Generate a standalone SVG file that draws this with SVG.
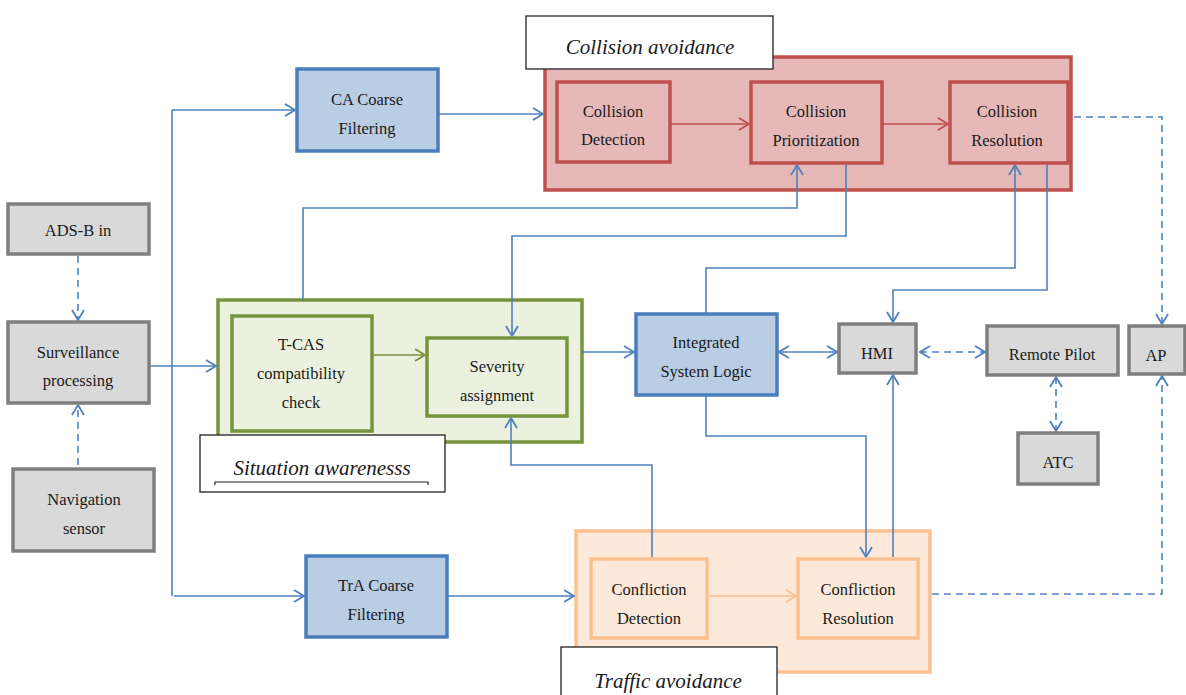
<svg xmlns="http://www.w3.org/2000/svg" width="1186" height="695" viewBox="0 0 1186 695" font-family="Liberation Serif, DejaVu Serif, Times New Roman, serif">
<defs>
<style>
text{font-family:'Liberation Serif','DejaVu Serif','Times New Roman',serif;font-size:16.5px;fill:#1a1a1a;text-anchor:middle;dominant-baseline:central}
.lbl{font-size:21px;font-style:italic}
.gray{fill:#d9d9d9;stroke:#7f7f7f;stroke-width:3.5}
.blue{fill:#b9cde5;stroke:#4a7ebb;stroke-width:3.5}
.red{fill:#e6b9b8;stroke:#c0504d;stroke-width:3.5}
.green{fill:#ebf1de;stroke:#77933c;stroke-width:3.5}
.orange{fill:#fde9d9;stroke:#fac090;stroke-width:3.5}
.tag{fill:#fff;stroke:#222;stroke-width:1.3}
.c{fill:none;stroke:#4f81bd;stroke-width:1.6;marker-end:url(#ah)}
.d{stroke-dasharray:7,5}
.cr{fill:none;stroke:#c0504d;stroke-width:1.6;marker-end:url(#ahr)}
.cg{fill:none;stroke:#77933c;stroke-width:1.6;marker-end:url(#ahg)}
.co{fill:none;stroke:#fac090;stroke-width:1.6;marker-end:url(#aho)}
</style>
<marker id="ah" viewBox="0 0 12 14" refX="11" refY="7" markerWidth="12" markerHeight="14" markerUnits="userSpaceOnUse" orient="auto-start-reverse"><path d="M1,1 L11,7 L1,13" fill="none" stroke="#4f81bd" stroke-width="1.8"/></marker>
<marker id="ahr" viewBox="0 0 12 14" refX="11" refY="7" markerWidth="12" markerHeight="14" markerUnits="userSpaceOnUse" orient="auto"><path d="M1,1 L11,7 L1,13" fill="none" stroke="#c0504d" stroke-width="1.8"/></marker>
<marker id="ahg" viewBox="0 0 12 14" refX="11" refY="7" markerWidth="12" markerHeight="14" markerUnits="userSpaceOnUse" orient="auto"><path d="M1,1 L11,7 L1,13" fill="none" stroke="#77933c" stroke-width="1.8"/></marker>
<marker id="aho" viewBox="0 0 12 14" refX="11" refY="7" markerWidth="12" markerHeight="14" markerUnits="userSpaceOnUse" orient="auto"><path d="M1,1 L11,7 L1,13" fill="none" stroke="#fac090" stroke-width="1.8"/></marker>
</defs>
<rect width="1186" height="695" fill="#fff"/>

<g id="collision-avoidance">
<rect class="red" x="545" y="57" width="526" height="133"/>
<rect class="tag" x="526" y="16" width="247" height="53"/>
<text class="lbl" x="650" y="47">Collision avoidance</text>
</g>
<g id="situation-awareness">
<rect class="green" x="218" y="300" width="364" height="142"/>
</g>
<g id="traffic-avoidance">
<rect class="orange" x="576" y="531" width="354" height="141"/>
</g>

<g id="connectors">
<path class="c d" d="M78,256 V320"/>
<path class="c d" d="M78,465 V405"/>
<path class="c" d="M149,366 H216"/>
<path fill="none" stroke="#4f81bd" stroke-width="1.6" d="M172,596 V110"/>
<path class="c" d="M172,110 H295"/>
<path class="c" d="M174,596 H304"/>
<path class="c" d="M438,114 H543"/>
<path class="cr" d="M670,124 H749"/>
<path class="cr" d="M882,124 H948"/>
<path class="c d" d="M1074,117 H1162 V324"/>
<path class="c" d="M447,596 H574"/>
<path class="co" d="M707,596 H796"/>
<path class="c d" d="M932,594 H1162 V376"/>
<path class="cg" d="M372,355 H425"/>
<path class="c" d="M303,300 V208 H797 V165"/>
<path class="c" d="M846,163 V236 H512 V336"/>
<path class="c" d="M582,352 H634"/>
<path class="c" d="M779,352 H837" marker-start="url(#ah)"/>
<path class="c d" d="M920,352 H985" marker-start="url(#ah)"/>
<path class="c d" d="M1056,377 V431" marker-start="url(#ah)"/>
<path class="c" d="M706,314 V268 H1015 V165"/>
<path class="c" d="M1047,163 V290 H893 V322"/>
<path class="c" d="M706,395 V436 H866 V557"/>
<path class="c" d="M893,557 V375"/>
<path class="c" d="M652,559 V465 H511 V418"/>
</g>

<g id="ads-b"><rect class="gray" x="8" y="204" width="141" height="50"/><text x="78" y="230">ADS-B in</text></g>
<g id="surveillance"><rect class="gray" x="8" y="322" width="141" height="81"/><text x="78" y="352">Surveillance</text><text x="78" y="380">processing</text></g>
<g id="navigation"><rect class="gray" x="13" y="469" width="141" height="82"/><text x="84" y="499">Navigation</text><text x="84" y="528">sensor</text></g>
<g id="ca-coarse"><rect class="blue" x="297" y="69" width="141" height="82"/><text x="367" y="99">CA Coarse</text><text x="367" y="128">Filtering</text></g>
<g id="tra-coarse"><rect class="blue" x="306" y="556" width="141" height="81"/><text x="376" y="585">TrA Coarse</text><text x="376" y="614">Filtering</text></g>
<g id="collision-detection"><rect class="red" x="557" y="82" width="113" height="80"/><text x="613" y="111">Collision</text><text x="613" y="139">Detection</text></g>
<g id="collision-prioritization"><rect class="red" x="751" y="82" width="131" height="81"/><text x="816" y="111">Collision</text><text x="816" y="140">Prioritization</text></g>
<g id="collision-resolution"><rect class="red" x="950" y="82" width="118" height="81"/><text x="1007" y="111">Collision</text><text x="1007" y="140">Resolution</text></g>
<g id="tcas"><rect class="green" x="232" y="316" width="140" height="115"/><text x="301" y="344">T-CAS</text><text x="301" y="373">compatibility</text><text x="301" y="402">check</text></g>
<g id="severity"><rect class="green" x="427" y="338" width="140" height="78"/><text x="497" y="366">Severity</text><text x="497" y="395">assignment</text></g>
<g id="situation-label"><rect class="tag" x="200" y="435" width="245" height="57"/><text class="lbl" x="322" y="468">Situation awarenesss</text><path d="M215,485 V482 H428 V485" fill="none" stroke="#222" stroke-width="1.2"/></g>
<g id="isl"><rect class="blue" x="636" y="314" width="141" height="81"/><text x="706" y="342">Integrated</text><text x="706" y="371">System Logic</text></g>
<g id="hmi"><rect class="gray" x="839" y="324" width="77" height="49"/><text x="877" y="353">HMI</text></g>
<g id="remote-pilot"><rect class="gray" x="987" y="326" width="131" height="49"/><text x="1052" y="354">Remote Pilot</text></g>
<g id="ap"><rect class="gray" x="1129" y="326" width="56" height="48"/><text x="1156" y="355">AP</text></g>
<g id="atc"><rect class="gray" x="1018" y="433" width="80" height="51"/><text x="1058" y="462">ATC</text></g>
<g id="confliction-detection"><rect class="orange" x="591" y="559" width="116" height="79"/><text x="649" y="589">Confliction</text><text x="649" y="618">Detection</text></g>
<g id="confliction-resolution"><rect class="orange" x="798" y="559" width="120" height="79"/><text x="858" y="589">Confliction</text><text x="858" y="618">Resolution</text></g>
<g id="traffic-label"><rect class="tag" x="561" y="647" width="216" height="60"/><text class="lbl" x="668" y="681">Traffic avoidance</text></g>
</svg>
